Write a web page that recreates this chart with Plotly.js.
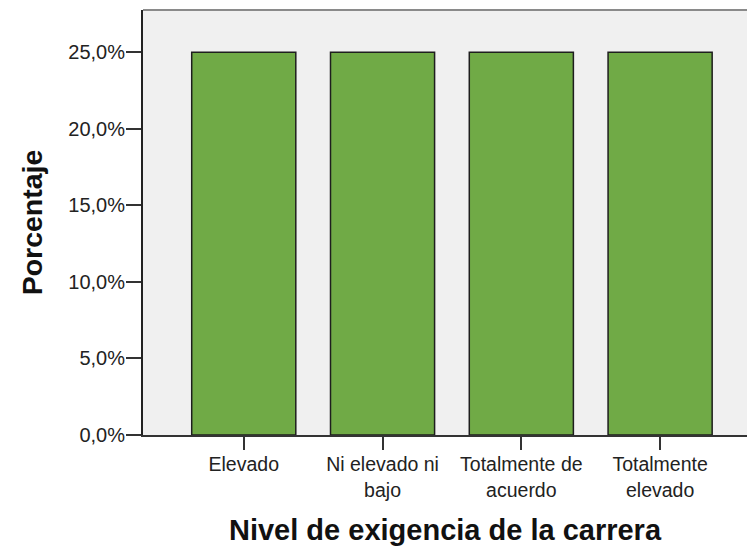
<!DOCTYPE html>
<html>
<head>
<meta charset="utf-8">
<script src="https://cdn.plot.ly/plotly-3.0.1.min.js"></script>
<style>
html,body{margin:0;padding:0;background:#fff;}
#chart{width:747px;height:547px;}
</style>
</head>
<body>
<div id="chart"></div>
<script>
var categories = ["Elevado", "Ni elevado ni<br>bajo", "Totalmente de<br>acuerdo", "Totalmente<br>elevado"];
var percentages = [25, 25, 25, 25];
var yTickValues = [0, 5, 10, 15, 20, 25];
var xTitle = "Nivel de exigencia de la carrera";
var yTitle = "Porcentaje";

var trace = {
  type: "bar",
  x: [0, 1, 2, 3],
  y: percentages.map(function (v) { return v / 100; }),
  marker: {color: "#70AA46", line: {color: "#1e1e1e", width: 1.5}},
  hoverinfo: "skip"
};

var layout = {
  width: 747,
  height: 547,
  margin: {l: 143, r: 0, t: 10, b: 112},
  paper_bgcolor: "#ffffff",
  plot_bgcolor: "#F0F0F0",
  separators: ",.",
  bargap: 0.25,
  showlegend: false,
  font: {family: "Liberation Sans, Arial, sans-serif", color: "#222222"},
  xaxis: {
    range: [-0.726, 3.626],
    tickvals: [0, 1, 2, 3],
    ticktext: categories,
    ticks: "outside",
    ticklen: 13,
    tickwidth: 2,
    tickcolor: "#333333",
    showline: true,
    linecolor: "#333333",
    linewidth: 2,
    showgrid: false,
    zeroline: false,
    ticklabelstandoff: -2,
    tickfont: {size: 19.5, color: "#222222"},
    automargin: false,
    title: {text: xTitle, font: {size: 29, family: "Liberation Sans, Arial, sans-serif", color: "#111111", weight: "bold"}, standoff: 20}
  },
  yaxis: {
    range: [0, 0.2776],
    tickvals: yTickValues.map(function (v) { return v / 100; }),
    tickformat: ".1%",
    ticks: "outside",
    ticklen: 15,
    tickwidth: 2,
    tickcolor: "#333333",
    showline: true,
    linecolor: "#222222",
    linewidth: 2,
    showgrid: false,
    zeroline: false,
    ticklabelstandoff: -3,
    tickfont: {size: 20, color: "#222222"},
    automargin: false,
    title: {text: yTitle, font: {size: 28.5, family: "Liberation Sans, Arial, sans-serif", color: "#111111", weight: "bold"}, standoff: 17}
  },
  shapes: [{
    type: "line", xref: "paper", yref: "paper",
    x0: 0, x1: 1, y0: 1, y1: 1,
    line: {color: "#8a8a8a", width: 2}
  }]
};

Plotly.newPlot("chart", [trace], layout, {displayModeBar: false, staticPlot: true});
</script>
</body>
</html>
